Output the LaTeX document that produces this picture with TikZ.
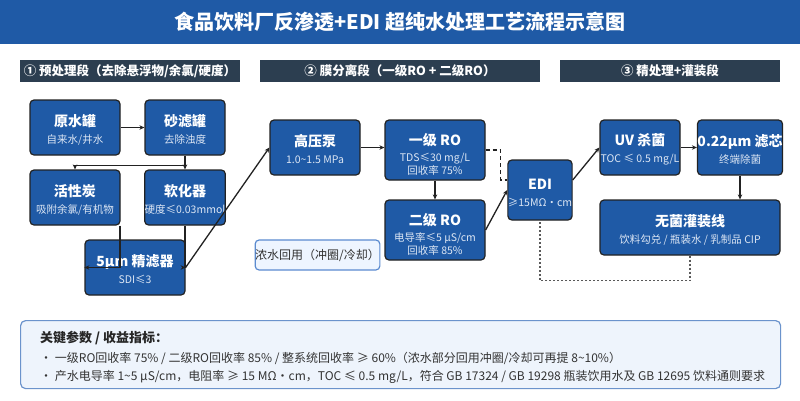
\documentclass[tikz,border=0pt]{standalone}
\usepackage{fontspec}
\setmainfont{Noto Sans CJK SC}
\usetikzlibrary{arrows.meta,calc}
\definecolor{mainblue}{HTML}{1F5AA6}
\definecolor{hdr}{HTML}{2C3E50}
\definecolor{subc}{HTML}{DCE6F4}
\definecolor{edge}{HTML}{222222}
\definecolor{panelfill}{HTML}{EEF4FC}
\definecolor{panelline}{HTML}{6B93CC}
\definecolor{recfill}{HTML}{EEF5FF}
\definecolor{recline}{HTML}{5B8BD0}
\definecolor{txtc}{HTML}{333333}
\newcommand{\twol}[2]{{\fontsize{14}{16}\selectfont\bfseries\rule{0pt}{16pt}#1}\\[5pt]{\fontsize{10.5}{13}\selectfont\color{subc}#2}}
\newcommand{\threel}[3]{{\fontsize{14}{16}\selectfont\bfseries\rule{0pt}{20pt}#1}\\[4pt]{\fontsize{10.5}{13}\selectfont\color{subc}#2}\\[1pt]{\fontsize{10.5}{13}\selectfont\color{subc}#3}}
\tikzset{
  procbox/.style={rectangle, rounded corners=4pt, fill=mainblue, draw=edge, line width=1.2pt,
     text=white, align=center, inner sep=0pt},
  hdrbar/.style={rectangle, fill=hdr, text=white, inner sep=0pt, font=\fontsize{12.5}{14}\selectfont\bfseries},
  arr/.style={draw=edge, line width=1.3pt, -{Stealth[length=5pt,width=4.5pt]}},
  dashline/.style={draw=edge, line width=1.4pt, dash pattern=on 4pt off 3pt},
  dotline/.style={draw=black!65, line width=1.4pt, dash pattern=on 2pt off 2pt},
}
\begin{document}
\begin{tikzpicture}[x=1pt,y=-1pt]
\useasboundingbox (0,0) rectangle (800,400);
\fill[white] (0,0) rectangle (800,400);
% title bar
\node[rectangle, fill=mainblue, minimum width=800pt, minimum height=44pt, inner sep=0pt, anchor=north west] (titlebar) at (0,0) {};
\node[text=white, font=\fontsize{20}{24}\selectfont\bfseries] (title) at (400,22) {食品饮料厂反渗透+EDI 超纯水处理工艺流程示意图};
% section headers
\node[hdrbar, minimum width=220pt, minimum height=22pt] (h1) at (130,71) {① 预处理段（去除悬浮物/余氯/硬度）};
\node[hdrbar, minimum width=280pt, minimum height=22pt] (h2) at (400,71) {② 膜分离段（一级RO + 二级RO）};
\node[hdrbar, minimum width=220pt, minimum height=22pt] (h3) at (670,71) {③ 精处理+灌装段};
% boxes
\node[procbox, minimum width=90pt, minimum height=55pt] (raw) at (75,127.5) {\twol{原水罐}{自来水/井水}};
\node[procbox, minimum width=80pt, minimum height=55pt] (sand) at (185,127.5) {\twol{砂滤罐}{去除浊度}};
\node[procbox, minimum width=90pt, minimum height=55pt] (carbon) at (75,197.5) {\twol{活性炭}{吸附余氯/有机物}};
\node[procbox, minimum width=80pt, minimum height=55pt] (soft) at (185,197.5) {\twol{软化器}{硬度≤0.03mmol}};
\node[procbox, minimum width=100pt, minimum height=55pt] (fine) at (135,267.5) {\twol{5μm 精滤器}{SDI≤3}};
\node[procbox, minimum width=90pt, minimum height=55pt] (pump) at (315,147.5) {\twol{高压泵}{1.0\textasciitilde 1.5 MPa}};
\node[procbox, minimum width=100pt, minimum height=60pt] (ro1) at (435,150) {\threel{一级 RO}{TDS≤30 mg/L}{回收率 75\%}};
\node[procbox, minimum width=100pt, minimum height=60pt] (ro2) at (435,230) {\threel{二级 RO}{电导率≤5 μS/cm}{回收率 85\%}};
\node[procbox, minimum width=60pt, minimum height=60pt] (edi) at (540,190) {\twol{EDI}{≥15MΩ・cm}};
\node[procbox, minimum width=80pt, minimum height=55pt] (uv) at (640,147.5) {\twol{UV 杀菌}{TOC ≤ 0.5 mg/L}};
\node[procbox, minimum width=80pt, minimum height=55pt] (filt) at (740,147.5) {\twol{0.22μm 滤芯}{终端除菌}};
\node[procbox, minimum width=180pt, minimum height=55pt] (fill) at (690,227.5) {\twol{无菌灌装线}{饮料勾兑 / 瓶装水 / 乳制品 CIP}};
\node[rectangle, rounded corners=4pt, fill=recfill, draw=recline, line width=1.2pt, minimum width=115pt, minimum height=30pt, inner sep=0pt, text=txtc, font=\fontsize{12}{14}\selectfont] (recycle) at (317.5,255) {浓水回用（冲圈/冷却）};
% connectors
\draw[arr] (raw.east) -- (sand.west);
\draw[arr] (sand.south) -- ++(0,10) -| (carbon.north);
\draw[arr] (sand.south) -- (soft.north);
\draw[arr] ([xshift=-0.6pt]carbon.south east) |- (fine.west);
\draw[arr] (soft.south) |- (fine.east);
\draw[arr] (fine.east) -- (pump.west);
\draw[arr] (pump.east) -- (pump.east -| ro1.west);
\draw[arr] (ro1.south) -- (ro2.north);
\draw[arr] (ro2.east) -- (edi.west);
\draw[dashline] (ro1.east) -- ++(15,0) |- ([yshift=10pt]edi.west);
\draw[arr] ([yshift=10pt]edi.east) -- (uv.west);
\draw[arr] (uv.east) -- (filt.west);
\draw[arr] (filt.south) -- (filt.south |- fill.north);
\draw[dotline] (fill.south) -- ++(0,25) -| (edi.south);
% bottom panel
\node[rectangle, rounded corners=5pt, fill=panelfill, draw=panelline, line width=1.2pt, minimum width=760pt, minimum height=68pt, inner sep=0pt, anchor=north west] (panel) at (20,320) {};
\node[anchor=west, text=black!85, font=\fontsize{13}{15}\selectfont\bfseries, inner sep=0pt] (ptitle) at (40,338) {关键参数 / 收益指标：};
\node[anchor=west, text=txtc, font=\fontsize{12}{14}\selectfont, inner sep=0pt] (pl1) at (40,358) {・ 一级RO回收率 75\% / 二级RO回收率 85\% / 整系统回收率 ≥ 60\%（浓水部分回用冲圈/冷却可再提 8\textasciitilde 10\%）};
\node[anchor=west, text=txtc, font=\fontsize{12}{14}\selectfont, inner sep=0pt] (pl2) at (40,377) {・ 产水电导率 1\textasciitilde 5 μS/cm，电阻率 ≥ 15 MΩ・cm，TOC ≤ 0.5 mg/L，符合 GB 17324 / GB 19298 瓶装饮用水及 GB 12695 饮料通则要求};
\end{tikzpicture}
\end{document}
